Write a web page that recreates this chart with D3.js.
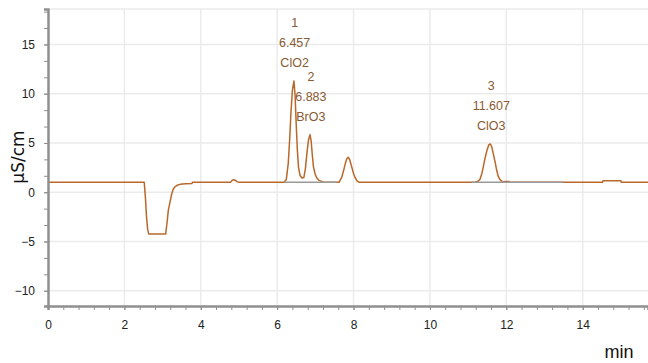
<!DOCTYPE html>
<html>
<head>
<meta charset="utf-8">
<script src="https://cdn.jsdelivr.net/npm/d3@7"></script>
<style>
  html, body { margin: 0; padding: 0; background: #fff; }
  svg { display: block; }
</style>
</head>
<body>
<div id="chart"></div>
<script>
// Chromatogram trace (time in min, conductivity in µS/cm)
const traceTime = [
  0, 2.52, 2.55, 2.58, 2.61, 2.64, 3.08, 3.12, 3.15, 3.2, 3.24, 3.28, 3.32, 3.38, 3.46, 3.6, 3.77, 3.78,
  4.78, 4.82, 4.86, 4.9, 4.95, 5.0,
  6.18, 6.24, 6.29, 6.33, 6.36, 6.40, 6.44, 6.47, 6.50, 6.53, 6.56, 6.6, 6.65,
  6.70, 6.74, 6.78, 6.82, 6.86, 6.89, 6.92, 6.95, 6.99, 7.03, 7.1, 7.2, 7.3,
  7.62, 7.69, 7.74, 7.79, 7.83, 7.86, 7.90, 7.95, 8.0, 8.04, 8.09, 8.15,
  11.15, 11.25, 11.31, 11.36, 11.40, 11.44, 11.49, 11.54, 11.58, 11.62, 11.66, 11.71, 11.75, 11.79, 11.83, 11.88, 11.92, 11.97, 12.06, 12.1,
  14.52, 14.53, 15.0, 15.01, 15.75
];
const traceValue = [
  1.0, 1.0, -0.5, -2.5, -3.8, -4.25, -4.25, -3.0, -1.85, -0.9, -0.15, 0.3, 0.55, 0.7, 0.8, 0.86, 0.88, 1.0,
  1.0, 1.2, 1.27, 1.22, 1.08, 1.0,
  1.0, 1.3, 2.9, 5.5, 8.0, 10.4, 11.3, 9.8, 6.8, 4.2, 2.5, 1.7, 1.45,
  1.5, 2.4, 4.0, 5.3, 5.85, 5.2, 3.8, 2.6, 1.9, 1.5, 1.2, 1.05, 1.0,
  1.0, 1.5, 2.2, 3.0, 3.45, 3.55, 3.3, 2.6, 1.9, 1.5, 1.15, 1.0,
  1.0, 1.1, 1.3, 1.9, 2.6, 3.4, 4.2, 4.8, 4.9, 4.6, 3.9, 3.0, 2.2, 1.6, 1.3, 1.12, 1.05, 1.1, 1.1, 1.0,
  1.0, 1.17, 1.17, 1.0, 1.0
];

// Peak annotations
const peakNumbers = ["1", "2", "3"];
const peakTimes = [6.457, 6.883, 11.607];
const peakNames = ["ClO2", "BrO3", "ClO3"];
const peakApex = [11.3, 5.85, 4.9];

// Integration baselines (grey)
const baseStart = [6.2, 11.09];
const baseEnd = [7.56, 13.49];
const baseLevel = 1.0;

const xTicks = [0, 2, 4, 6, 8, 10, 12, 14];
const yTicks = [-10, -5, 0, 5, 10, 15];

const width = 648, height = 363;
const margin = { top: 9, right: 0, bottom: 57, left: 48 };

const svg = d3.select("#chart").append("svg")
  .attr("width", width)
  .attr("height", height);

const x = d3.scaleLinear()
  .domain([0, 15.71])
  .range([margin.left, width - margin.right]);

const y = d3.scaleLinear()
  .domain([-11.55, 18.6])
  .range([height - margin.bottom, margin.top]);

const tickFont = "'Liberation Sans Narrow', 'Liberation Sans', sans-serif";

// grid
const grid = svg.append("g");
grid.selectAll("line.h")
  .data(yTicks.concat([18.6]))
  .join("line")
  .attr("x1", x(0)).attr("x2", width)
  .attr("y1", d => y(d)).attr("y2", d => y(d))
  .attr("stroke", "#ebebeb")
  .attr("stroke-width", 1.5);
grid.selectAll("line.v")
  .data(xTicks.slice(1))
  .join("line")
  .attr("x1", d => x(d)).attr("x2", d => x(d))
  .attr("y1", y(18.6)).attr("y2", y(-11.55))
  .attr("stroke", "#ebebeb")
  .attr("stroke-width", 1.5);

// trace
const points = traceTime.map((t, i) => [t, traceValue[i]]);
const line = d3.line().x(d => x(d[0])).y(d => y(d[1]));

svg.append("path")
  .datum(points)
  .attr("d", line)
  .attr("fill", "none")
  .attr("stroke", "#b9682a")
  .attr("stroke-width", 1.5)
  .attr("stroke-linejoin", "round");

// integration baselines on top
svg.append("g")
  .selectAll("line")
  .data(baseStart.map((s, i) => [s, baseEnd[i]]))
  .join("line")
  .attr("x1", d => x(d[0])).attr("x2", d => x(d[1]))
  .attr("y1", y(baseLevel)).attr("y2", y(baseLevel))
  .attr("stroke", "#9a9a9a")
  .attr("stroke-width", 1.5);

// axes
const xAxis = d3.axisBottom(x)
  .tickValues(xTicks)
  .tickFormat(d3.format("d"))
  .tickSize(4)
  .tickPadding(10);
const xMinor = d3.axisBottom(x)
  .tickValues(d3.range(0, 15.7, 0.4))
  .tickFormat("")
  .tickSize(4);

const yAxis = d3.axisLeft(y)
  .tickValues(yTicks)
  .tickFormat(d3.format("d"))
  .tickSize(4)
  .tickPadding(9);
const yMinor = d3.axisLeft(y)
  .tickValues(d3.range(-10, 18.6, 5 / 3))
  .tickFormat("")
  .tickSize(4);

function styleAxis(g) {
  g.select(".domain").attr("stroke", "#8f8f8f").attr("stroke-width", 2);
  g.selectAll(".tick line").attr("stroke", "#8f8f8f");
  g.selectAll(".tick text")
    .attr("fill", "#222")
    .style("font-family", tickFont)
    .style("font-size", "12px");
}

svg.append("g").attr("transform", `translate(0,${y(-11.55)})`).call(xMinor).call(styleAxis);
svg.append("g").attr("transform", `translate(0,${y(-11.55)})`).call(xAxis).call(styleAxis);
svg.append("g").attr("transform", `translate(${x(0)},0)`).call(yMinor).call(styleAxis);
svg.append("g").attr("transform", `translate(${x(0)},0)`).call(yAxis).call(styleAxis);

// peak labels
const labels = svg.append("g")
  .style("font-family", tickFont)
  .style("font-size", "12.5px")
  .attr("fill", "#8a5a33")
  .attr("text-anchor", "middle");

peakTimes.forEach((t, i) => {
  const ay = y(peakApex[i]);
  const rows = [peakNumbers[i], t.toFixed(3), peakNames[i]];
  rows.forEach((txt, j) => {
    labels.append("text")
      .attr("x", x(t))
      .attr("y", ay - 58 + j * 20)
      .attr("dy", "0.35em")
      .text(txt);
  });
});

// axis titles
svg.append("text")
  .attr("transform", `translate(24,157) rotate(-90)`)
  .attr("text-anchor", "middle")
  .style("font-family", "'DejaVu Sans', sans-serif")
  .style("font-size", "17px")
  .attr("fill", "#111")
  .text("µS/cm");

svg.append("text")
  .attr("x", 619)
  .attr("y", 358)
  .attr("text-anchor", "middle")
  .style("font-family", tickFont)
  .style("font-size", "18px")
  .attr("fill", "#111")
  .text("min");
</script>
</body>
</html>
